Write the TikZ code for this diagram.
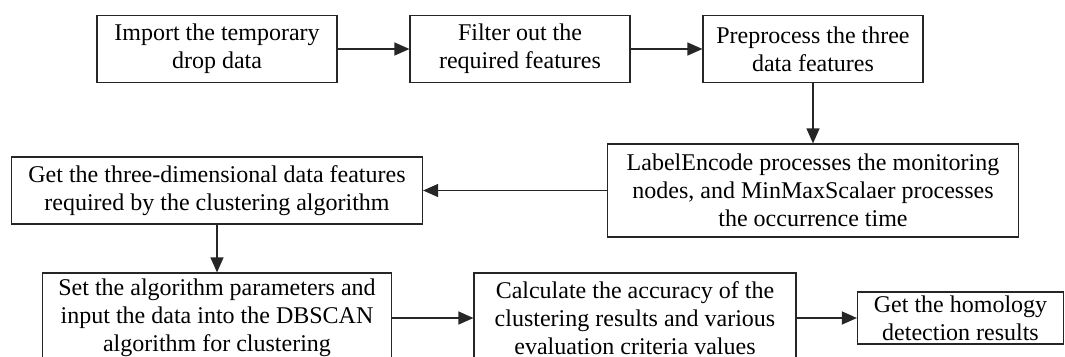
\documentclass[tikz,border=0pt]{standalone}
\usepackage{fontspec}
\setmainfont{Liberation Serif}
\usetikzlibrary{arrows.meta}
\tikzset{
  flowbox/.style={draw=black!85, line width=1.2pt, rectangle, inner sep=0pt,
    align=center, font=\fontsize{24}{28}\selectfont},
  flowarrow/.style={draw=black!85, line width=1.2pt, -{Triangle[length=15pt,width=13pt]}}
}
\begin{document}
\begin{tikzpicture}[x=1pt, y=-1pt]
  \useasboundingbox (0,0) rectangle (1065,356);
  % first row
  \node[flowbox, minimum width=240pt, minimum height=67pt] (b1) at (217,49)
    {Import the temporary\\drop data};
  \node[flowbox, minimum width=220pt, minimum height=67pt] (b2) at (520,49)
    {Filter out the\\required features};
  \node[flowbox, minimum width=220pt, minimum height=67pt] (b3) at (813,49)
    {Preprocess the three\\data features};
  % second row
  \node[flowbox, minimum width=411pt, minimum height=93pt] (b4) at (813,190.5)
    {LabelEncode processes the monitoring\\nodes, and MinMaxScalaer processes\\the occurrence time};
  \node[flowbox, minimum width=411pt, minimum height=67pt] (b5) at (217,190.5)
    {Get the three-dimensional data features\\required by the clustering algorithm};
  % third row
  \node[flowbox, minimum width=349pt, minimum height=90pt] (b6) at (217,318)
    {Set the algorithm parameters and\\input the data into the DBSCAN\\algorithm for clustering};
  \node[flowbox, minimum width=322pt, minimum height=90pt] (b7) at (635,318)
    {Calculate the accuracy of the\\clustering results and various\\evaluation criteria values};
  \node[flowbox, minimum width=206pt, minimum height=52pt] (b8) at (960.5,318)
    {Get the homology\\detection results};
  % connectors
  \draw[flowarrow] (b1) -- (b2);
  \draw[flowarrow] (b2) -- (b3);
  \draw[flowarrow] (b3) -- (b4);
  \draw[flowarrow] (b4) -- (b5);
  \draw[flowarrow] (b5) -- (b6);
  \draw[flowarrow] (b6) -- (b7);
  \draw[flowarrow] (b7) -- (b8);
\end{tikzpicture}
\end{document}
